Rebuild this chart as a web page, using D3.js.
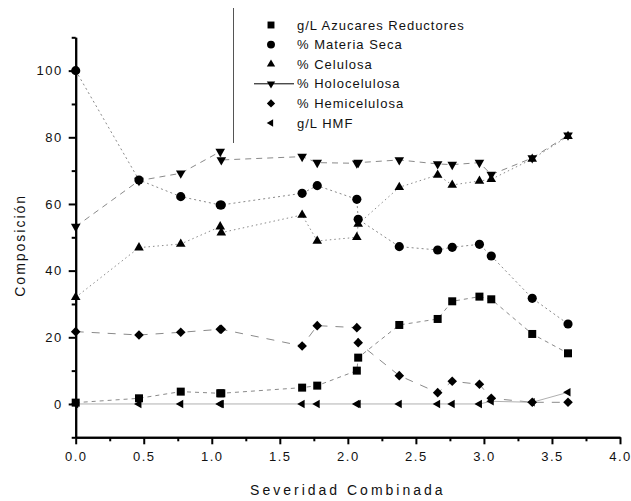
<!DOCTYPE html>
<html>
<head>
<meta charset="utf-8">
<script src="https://cdn.jsdelivr.net/npm/d3@7/dist/d3.min.js"></script>
<style>
  body { margin: 0; background: #fff; }
  svg { display: block; font-family: "Liberation Sans", Arial, sans-serif; }
</style>
</head>
<body>
<svg id="chart" width="631" height="501"></svg>
<script>
// Combined severity of each pretreatment sample
const severidad = [0, 0.465, 0.772, 1.062, 1.070, 1.664, 1.775, 2.066, 2.076, 2.378, 2.660, 2.767, 2.967, 3.054, 3.355, 3.618];

// Composition values per sample
const azucares     = [0.4, 1.7, 3.7, 3.2, 3.2, 4.9, 5.5, 10.0, 13.9, 23.7, 25.5, 30.8, 32.2, 31.4, 21.0, 15.2];
const materiaSeca  = [100, 67.2, 62.2, 59.7, 59.7, 63.2, 65.5, 61.4, 55.4, 47.2, 46.2, 47.0, 47.9, 44.4, 31.7, 24.0];
const celulosa     = [32.0, 46.9, 48.0, 53.2, 51.4, 56.7, 48.9, 50.0, 54.0, 65.0, 68.7, 65.7, 66.9, 67.4, 73.5, 80.3];
const holocelulosa = [53.2, 67.0, 69.2, 75.7, 73.2, 74.2, 72.4, 72.2, 72.4, 73.2, 72.0, 71.8, 72.4, 68.8, 73.8, 80.6];
const hemicelulosa = [21.7, 20.7, 21.5, 22.4, 22.4, 17.4, 23.5, 22.9, 18.4, 8.5, 3.4, 6.8, 5.9, 1.7, 0.5, 0.5];
const hmf          = [0, 0, 0, 0, 0, 0, 0, 0, 0, 0, 0, 0, 0, 0.8, 0.5, 3.5];

const seriesNames = ["g/L Azucares Reductores", "% Materia Seca", "% Celulosa", "% Holocelulosa", "% Hemicelulosa", "g/L HMF"];

const xTicks = [0, 0.5, 1, 1.5, 2, 2.5, 3, 3.5, 4];
const xMinorTicks = [0.25, 0.75, 1.25, 1.75, 2.25, 2.75, 3.25, 3.75];
const yTicks = [0, 20, 40, 60, 80, 100];
const yMinorTicks = [-10, 10, 30, 50, 70, 90, 110];

const svg = d3.select("#chart");
const plotLeft = 75.7, plotRight = 620, plotTop = 37.3, plotBottom = 437.3;

const x = d3.scaleLinear().domain([0, 4]).range([plotLeft, plotRight]);
const y = d3.scaleLinear().domain([-10, 110]).range([plotBottom, plotTop]);

const series = [
  { name: seriesNames[0], values: azucares,     symbol: d3.symbolSquare,   size: 64, rotate: 0,   dash: "4,4",   stroke: "#8a8a8a" },
  { name: seriesNames[1], values: materiaSeca,  symbol: d3.symbolCircle,   size: 66, rotate: 0,   dash: "2,3",   stroke: "#8a8a8a" },
  { name: seriesNames[2], values: celulosa,     symbol: d3.symbolTriangle, size: 40, rotate: 0,   dash: "1.5,3", stroke: "#8a8a8a" },
  { name: seriesNames[3], values: holocelulosa, symbol: d3.symbolTriangle, size: 40, rotate: 180, dash: "6,5",   stroke: "#8a8a8a" },
  { name: seriesNames[4], values: hemicelulosa, symbol: d3.symbolSquare,   size: 46, rotate: 45,  dash: "8,8",   stroke: "#8a8a8a" },
  { name: seriesNames[5], values: hmf,          symbol: d3.symbolTriangle, size: 32, rotate: -90, dash: null,    stroke: "#b0b0b0" }
];

// Connecting lines
const line = d3.line().x(d => x(d[0])).y(d => y(d[1]));
series.forEach(s => {
  const pts = severidad.map((v, i) => [v, s.values[i]]);
  svg.append("path")
    .attr("d", line(pts))
    .attr("fill", "none")
    .attr("stroke", s.stroke)
    .attr("stroke-width", 1)
    .attr("stroke-dasharray", s.dash);
});

// Markers
series.forEach(s => {
  const sym = d3.symbol().type(s.symbol).size(s.size);
  svg.append("g").selectAll("path")
    .data(severidad.map((v, i) => [v, s.values[i]]))
    .join("path")
    .attr("d", sym)
    .attr("transform", d => `translate(${x(d[0])},${y(d[1])}) rotate(${s.rotate})`)
    .attr("fill", "#000");
});

// Axes
function styleAxis(g) {
  g.select(".domain").attr("stroke", "#000").attr("stroke-width", 2);
  g.selectAll(".tick line").attr("stroke", "#000").attr("stroke-width", 2);
  g.selectAll(".tick text")
    .attr("fill", "#111")
    .style("font-size", "13px")
    .style("letter-spacing", "1.5px");
}

const xAxis = svg.append("g").attr("transform", `translate(0,${plotBottom})`)
  .call(d3.axisBottom(x).tickValues(xTicks).tickSize(7).tickSizeOuter(0).tickPadding(7).tickFormat(d3.format(".1f")));
styleAxis(xAxis);
const xMinor = svg.append("g").attr("transform", `translate(0,${plotBottom})`)
  .call(d3.axisBottom(x).tickValues(xMinorTicks).tickSize(4).tickSizeOuter(0).tickFormat(""));
styleAxis(xMinor);

const yAxis = svg.append("g").attr("transform", `translate(${plotLeft},0)`)
  .call(d3.axisLeft(y).tickValues(yTicks).tickSize(7).tickSizeOuter(0).tickPadding(6).tickFormat(d3.format("d")));
styleAxis(yAxis);
const yMinor = svg.append("g").attr("transform", `translate(${plotLeft},0)`)
  .call(d3.axisLeft(y).tickValues(yMinorTicks).tickSize(4).tickSizeOuter(0).tickFormat(""));
styleAxis(yMinor);

// Axis titles
svg.append("text")
  .attr("x", (plotLeft + plotRight) / 2)
  .attr("y", 495)
  .attr("text-anchor", "middle")
  .style("font-size", "14px")
  .style("letter-spacing", "3px")
  .attr("fill", "#111")
  .text("Severidad Combinada");

svg.append("text")
  .attr("transform", `translate(25,${(plotTop + plotBottom) / 2 + 8}) rotate(-90)`)
  .attr("text-anchor", "middle")
  .style("font-size", "14px")
  .style("letter-spacing", "2px")
  .attr("fill", "#111")
  .text("Composición");

// Legend
const legend = svg.append("g");
legend.append("line")
  .attr("x1", 233.5).attr("x2", 233.5)
  .attr("y1", 8).attr("y2", 143)
  .attr("stroke", "#555").attr("stroke-width", 1);

const legendY0 = 25, legendStep = 19.6, symX = 271, textX = 297;
series.forEach((s, i) => {
  const cy = legendY0 + i * legendStep;
  if (i === 3) {
    legend.append("line")
      .attr("x1", 254).attr("x2", 294)
      .attr("y1", cy).attr("y2", cy)
      .attr("stroke", "#000").attr("stroke-width", 1);
  }
  legend.append("path")
    .attr("d", d3.symbol().type(s.symbol).size(s.size * 0.75)())
    .attr("transform", `translate(${symX},${cy}) rotate(${s.rotate})`)
    .attr("fill", "#000");
  legend.append("text")
    .attr("x", textX).attr("y", cy + 4.5)
    .style("font-size", "13px")
    .style("letter-spacing", "1px")
    .attr("fill", "#111")
    .text(s.name);
});
</script>
</body>
</html>
